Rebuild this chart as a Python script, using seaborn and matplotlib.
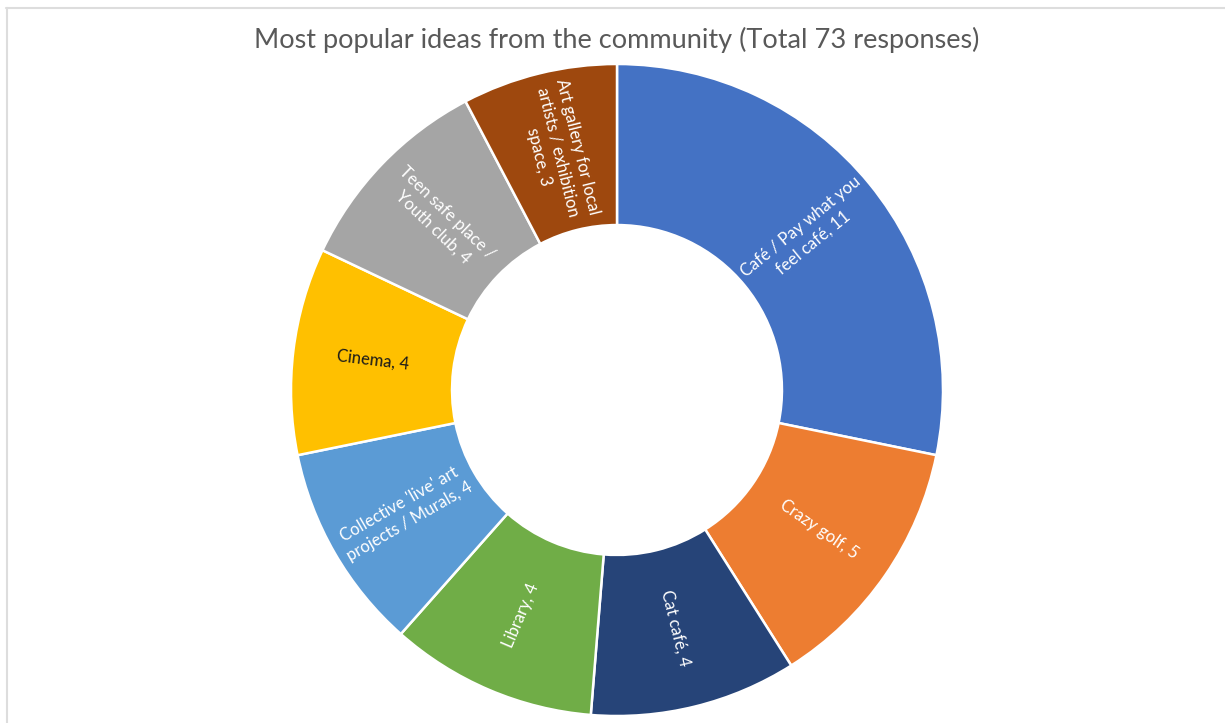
import numpy as np
import matplotlib
matplotlib.use("Agg")
import matplotlib.pyplot as plt
import seaborn as sns
from matplotlib.lines import Line2D

# ---- data ----
categories = [
    "Café / Pay what you\nfeel café",
    "Crazy golf",
    "Cat café",
    "Library",
    "Collective 'live' art\nprojects / Murals",
    "Cinema",
    "Teen safe place /\nYouth club",
    "Art gallery for local\nartists / exhibition\nspace",
]
values = [11, 5, 4, 4, 4, 4, 4, 3]
colors = ["#4472C4", "#ED7D31", "#264478", "#70AD47",
          "#5B9BD5", "#FFC000", "#A5A5A5", "#9E480E"]
text_colors = ["white", "white", "white", "white",
               "white", "#1a1a1a", "white", "white"]
title = "Most popular ideas from the community (Total 73 responses)"

sns.set_theme(style="white")
plt.rcParams["font.family"] = ["Lato", "DejaVu Sans"]

W, H = 1225, 723
fig = plt.figure(figsize=(W / 100, H / 100), dpi=100)
fig.patch.set_facecolor("white")

cx, cy, R = 617, 390, 326
ax = fig.add_axes([(cx - R) / W, (H - cy - R) / H, 2 * R / W, 2 * R / H])
palette = sns.color_palette(colors)

wedges, _ = ax.pie(values, colors=palette, startangle=90, counterclock=False,
                   radius=1.0,
                   wedgeprops=dict(width=0.494, edgecolor="white", linewidth=1.8))
ax.set_xlim(-1.0, 1.0)
ax.set_ylim(-1.0, 1.0)
ax.set_aspect("equal")
ax.axis("off")

r_lab = 0.753
for w, cat, val, tc in zip(wedges, categories, values, text_colors):
    ang = (w.theta1 + w.theta2) / 2.0
    x = r_lab * np.cos(np.deg2rad(ang))
    y = r_lab * np.sin(np.deg2rad(ang))
    rot = ((ang + 180) % 360) - 180
    if rot > 90:
        rot -= 180
    elif rot < -90:
        rot += 180
    ax.text(x, y, f"{cat}, {val}", ha="center", va="center", rotation=rot,
            rotation_mode="anchor", color=tc, fontsize=12,
            multialignment="center", linespacing=1.3)

fig.text(617 / W, 1 - 40 / H, title, ha="center", va="center",
         fontsize=19.5, color="#595959")

# light frame (top and left edges visible)
fig.add_artist(Line2D([6 / W, 1.0], [1 - 7.5 / H, 1 - 7.5 / H],
                      transform=fig.transFigure, color="#DDDDDD", lw=1.5))
fig.add_artist(Line2D([6.5 / W, 6.5 / W], [0, 1 - 7.5 / H],
                      transform=fig.transFigure, color="#DDDDDD", lw=1.5))

fig.savefig("out.png", dpi=100, facecolor="white")
